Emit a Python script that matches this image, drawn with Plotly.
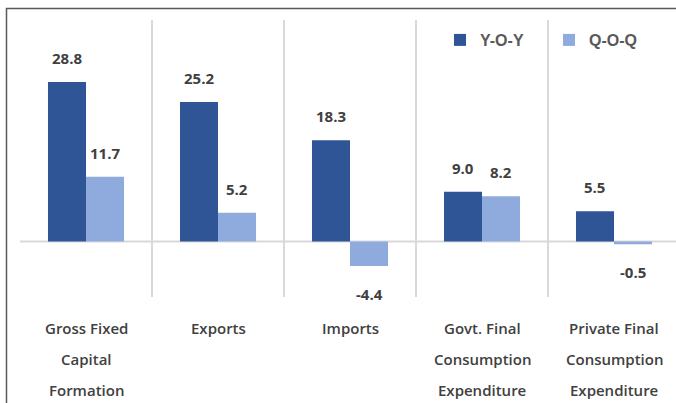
import plotly.graph_objects as go

categories = ["Gross Fixed<br>Capital<br>Formation", "Exports", "Imports",
              "Govt. Final<br>Consumption<br>Expenditure",
              "Private Final<br>Consumption<br>Expenditure"]
yoy = [28.8, 25.2, 18.3, 9.0, 5.5]
qoq = [11.7, 5.2, -4.4, 8.2, -0.5]
series_names = ["Y-O-Y", "Q-O-Q"]
colors = ["#2F5597", "#8FAADC"]

W, H = 676, 403
ml, mr, mt, mb = 20, 0, 20, 106
pw, ph = W - ml - mr, H - mt - mb
xs = list(range(len(categories)))
bargap = 0.424
bw = (1 - bargap) / 2

fig = go.Figure()
for name, vals, col in zip(series_names, [yoy, qoq], colors):
    fig.add_trace(go.Bar(x=xs, y=vals, name=name, marker=dict(color=col, line=dict(width=0))))

ann = []
for k, vals in enumerate([yoy, qoq]):
    off = -bw / 2 if k == 0 else bw / 2
    for i, v in enumerate(vals):
        ann.append(dict(x=i + off, y=v, xref="x", yref="y", text=f"{v:.1f}",
                        showarrow=False, yshift=24 if v >= 0 else -28,
                        font=dict(family="Open Sans", size=15, color="#404040", weight="bold")))

for i, c in enumerate(categories):
    for j, line in enumerate(c.split("<br>")):
        ann.append(dict(x=i, y=(297 - (328 + 31 * j)) / ph, xref="x", yref="paper",
                        text=line, showarrow=False, yanchor="middle",
                        font=dict(family="Open Sans", size=15, color="#404040", weight=600)))

shapes = [
    dict(type="line", xref="paper", yref="y", x0=0, x1=1, y0=0, y1=0,
         line=dict(color="#D9D9D9", width=2), layer="below"),
    dict(type="rect", xref="paper", yref="paper",
         x0=(6.5 - ml) / pw, x1=(W + 20 - ml) / pw,
         y0=(H - mb - (H + 20)) / ph, y1=(H - mb - 8.5) / ph,
         line=dict(color="#595959", width=1.5)),
]

fig.update_layout(
    width=W, height=H,
    margin=dict(l=ml, r=mr, t=mt, b=mb),
    paper_bgcolor="white", plot_bgcolor="white",
    barmode="group", bargap=bargap, bargroupgap=0,
    showlegend=True,
    legend=dict(orientation="h", x=(440 - ml) / pw, y=(H - mb - 23) / ph,
                xanchor="left", yanchor="top", bgcolor="rgba(0,0,0,0)",
                entrywidth=64, itemwidth=30,
                font=dict(family="Liberation Sans", size=16, color="#595959", weight="bold")),
    xaxis=dict(range=[-0.5, -0.5 + pw / 132], tickvals=[i - 0.5 for i in range(len(categories) + 1)],
               showticklabels=False, showgrid=True, gridcolor="#D9D9D9", gridwidth=2,
               zeroline=False, showline=False, ticks=""),
    yaxis=dict(range=[-10, 40], showticklabels=False, showgrid=False, zeroline=False,
               showline=False, ticks=""),
    annotations=ann, shapes=shapes,
)
fig.write_html("out.html", config={"displayModeBar": False},
               post_script="document.body.style.margin='0';document.body.style.overflow='hidden';")
